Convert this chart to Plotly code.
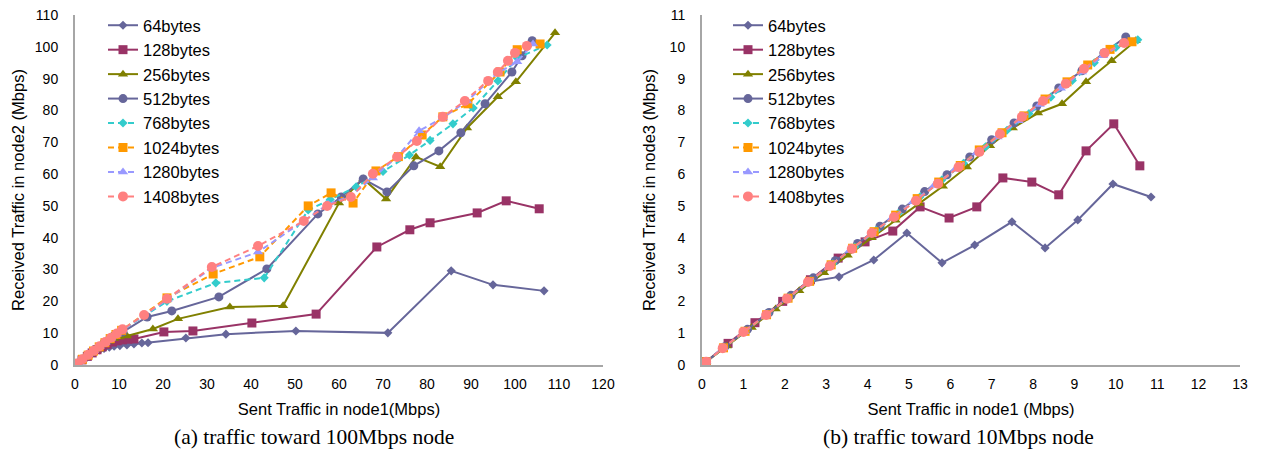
import plotly.graph_objects as go

# ---------- data: (a) traffic toward 100Mbps node ----------
a64_x = [0.4, 1.5, 2.6, 3.6, 4.6, 5.6, 6.6, 7.8, 8.9, 10.2, 11.8, 13.4, 15.2, 16.6, 25.2, 34.3, 50.2, 71.1, 85.5, 95.0, 106.6]
a64_y = [0.4, 1.4, 2.4, 3.3, 4.1, 4.7, 5.2, 5.6, 5.9, 6.1, 6.3, 6.6, 6.9, 7.0, 8.5, 9.7, 10.7, 10.1, 29.6, 25.2, 23.3]
a128_x = [0.5, 1.6, 2.8, 3.9, 5.0, 6.2, 7.3, 8.5, 9.6, 10.8, 12.0, 13.4, 20.2, 26.8, 40.2, 54.8, 68.6, 76.1, 80.7, 91.4, 98.0, 105.5]
a128_y = [0.5, 1.6, 2.7, 3.8, 4.8, 5.7, 6.5, 7.2, 7.6, 7.9, 8.1, 8.2, 10.4, 10.7, 13.2, 16.0, 37.1, 42.5, 44.7, 47.8, 51.6, 49.1]
a256_x = [0.5, 1.7, 2.9, 4.1, 5.3, 6.5, 7.7, 8.9, 10.1, 11.8, 17.7, 23.4, 35.2, 47.3, 60.0, 65.5, 70.7, 77.5, 83.0, 89.1, 96.1, 100.2, 109.1]
a256_y = [0.5, 1.7, 2.9, 4.1, 5.3, 6.4, 7.5, 8.3, 8.8, 9.1, 11.3, 14.5, 18.2, 18.6, 50.9, 58.5, 52.2, 65.4, 62.3, 74.5, 84.3, 89.0, 104.4]
a512_x = [0.5, 1.7, 2.9, 4.1, 5.4, 6.6, 7.8, 9.0, 10.9, 16.4, 22.0, 32.7, 43.6, 55.2, 60.5, 65.5, 70.9, 77.0, 82.7, 87.7, 93.2, 99.3, 101.6, 103.9]
a512_y = [0.5, 1.8, 3.0, 4.3, 5.6, 6.9, 8.1, 9.3, 10.4, 15.1, 17.0, 21.4, 30.2, 47.5, 52.8, 58.5, 54.4, 62.6, 67.3, 73.0, 82.1, 92.1, 97.2, 101.9]
a768_x = [0.5, 1.7, 3.0, 4.2, 5.5, 6.7, 8.0, 9.2, 10.5, 20.9, 32.0, 43.0, 53.0, 58.0, 63.9, 70.0, 76.0, 80.7, 85.9, 90.5, 96.1, 100.5, 107.3]
a768_y = [0.5, 1.8, 3.1, 4.4, 5.7, 7.0, 8.3, 9.5, 10.8, 20.0, 25.8, 27.4, 48.7, 52.0, 56.0, 60.8, 66.0, 70.6, 75.8, 80.8, 89.3, 96.5, 100.6]
a1024_x = [0.5, 1.7, 3.0, 4.2, 5.5, 6.8, 8.0, 9.3, 10.6, 20.9, 31.4, 42.0, 53.0, 58.2, 63.2, 68.4, 73.5, 78.9, 83.6, 89.3, 96.6, 100.5, 105.7]
a1024_y = [0.5, 1.8, 3.1, 4.4, 5.7, 7.0, 8.3, 9.6, 10.9, 21.1, 28.6, 34.0, 50.0, 54.1, 50.9, 61.0, 65.5, 72.3, 78.0, 82.1, 92.1, 99.1, 100.9]
a1280_x = [0.5, 1.7, 3.0, 4.3, 5.6, 6.9, 8.2, 9.5, 10.8, 21.0, 31.1, 41.6, 52.0, 57.5, 62.5, 67.7, 73.4, 78.2, 83.6, 89.1, 96.1, 100.5, 104.1]
a1280_y = [0.5, 1.8, 3.2, 4.5, 5.8, 7.1, 8.4, 9.7, 11.0, 20.6, 30.5, 35.5, 45.3, 50.5, 53.0, 58.8, 65.7, 73.6, 77.7, 83.0, 91.8, 95.3, 100.9]
a1408_x = [0.5, 1.7, 3.0, 4.3, 5.6, 6.9, 8.2, 9.5, 10.8, 15.7, 20.9, 31.1, 41.6, 52.0, 57.3, 62.7, 67.7, 73.2, 77.7, 83.6, 88.6, 93.9, 96.1, 98.4, 100.0, 102.7]
a1408_y = [0.5, 1.8, 3.2, 4.5, 5.9, 7.2, 8.6, 9.9, 11.2, 15.7, 20.8, 30.8, 37.4, 45.3, 50.0, 52.8, 60.1, 65.4, 70.4, 78.0, 83.0, 89.3, 92.1, 95.6, 98.1, 100.3]

# ---------- data: (b) traffic toward 10Mbps node ----------
b64_x = [0.1, 0.55, 1.1, 1.6, 2.1, 2.56, 3.31, 4.15, 4.95, 5.80, 6.59, 7.49, 8.29, 9.08, 9.93, 10.85]
b64_y = [0.1, 0.56, 1.1, 1.62, 2.12, 2.61, 2.77, 3.30, 4.15, 3.21, 3.77, 4.50, 3.68, 4.56, 5.69, 5.28]
b128_x = [0.1, 0.63, 1.28, 1.95, 2.62, 3.29, 3.94, 4.61, 5.27, 5.97, 6.64, 7.27, 7.97, 8.62, 9.28, 9.95, 10.58]
b128_y = [0.1, 0.68, 1.33, 2.0, 2.68, 3.36, 3.87, 4.21, 4.97, 4.62, 4.97, 5.88, 5.75, 5.35, 6.73, 7.58, 6.26]
b256_x = [0.1, 0.6, 1.2, 1.78, 2.35, 2.95, 3.52, 4.1, 4.68, 5.25, 5.82, 6.4, 6.96, 7.51, 8.12, 8.70, 9.28, 9.90, 10.48]
b256_y = [0.1, 0.6, 1.18, 1.76, 2.33, 2.9, 3.45, 4.0, 4.55, 5.08, 5.62, 6.22, 6.89, 7.45, 7.92, 8.21, 8.90, 9.56, 10.19]
b512_x = [0.1, 0.55, 1.1, 1.62, 2.15, 2.69, 3.22, 3.76, 4.3, 4.84, 5.38, 5.92, 6.47, 7.0, 7.54, 8.09, 8.62, 9.18, 9.71, 10.24]
b512_y = [0.1, 0.57, 1.12, 1.65, 2.19, 2.74, 3.28, 3.82, 4.36, 4.9, 5.45, 5.98, 6.54, 7.08, 7.61, 8.14, 8.71, 9.25, 9.81, 10.31]
b768_x = [0.1, 0.52, 1.05, 1.58, 2.1, 2.63, 3.16, 3.69, 4.21, 4.74, 5.27, 5.8, 6.32, 6.85, 7.37, 7.9, 8.43, 8.95, 9.48, 10.0, 10.53]
b768_y = [0.1, 0.53, 1.06, 1.6, 2.12, 2.65, 3.18, 3.71, 4.23, 4.76, 5.29, 5.82, 6.34, 6.86, 7.38, 7.9, 8.42, 8.94, 9.5, 9.98, 10.22]
b1024_x = [0.1, 0.52, 1.04, 1.56, 2.08, 2.6, 3.12, 3.64, 4.16, 4.68, 5.2, 5.72, 6.24, 6.7, 7.25, 7.78, 8.29, 8.82, 9.32, 9.86, 10.39]
b1024_y = [0.1, 0.54, 1.06, 1.58, 2.1, 2.63, 3.15, 3.67, 4.19, 4.71, 5.23, 5.75, 6.27, 6.76, 7.3, 7.83, 8.36, 8.9, 9.43, 9.92, 10.16]
b1280_x = [0.1, 0.51, 1.02, 1.53, 2.04, 2.55, 3.06, 3.57, 4.08, 4.59, 5.1, 5.61, 6.12, 6.63, 7.14, 7.65, 8.16, 8.67, 9.18, 9.69, 10.2]
b1280_y = [0.1, 0.54, 1.05, 1.56, 2.07, 2.58, 3.09, 3.6, 4.11, 4.62, 5.13, 5.64, 6.15, 6.66, 7.17, 7.68, 8.19, 8.7, 9.21, 9.72, 10.13]
b1408_x = [0.1, 0.5, 1.0, 1.55, 2.05, 2.56, 3.09, 3.62, 4.1, 4.64, 5.17, 5.7, 6.2, 6.7, 7.2, 7.73, 8.24, 8.79, 9.23, 9.73, 10.2]
b1408_y = [0.1, 0.53, 1.04, 1.57, 2.08, 2.61, 3.11, 3.65, 4.15, 4.65, 5.16, 5.7, 6.22, 6.70, 7.26, 7.80, 8.30, 8.84, 9.31, 9.81, 10.12]

names = ["64bytes", "128bytes", "256bytes", "512bytes", "768bytes", "1024bytes", "1280bytes", "1408bytes"]
colors = ["#66669A", "#993366", "#808000", "#66669A", "#33CCCC", "#FF9900", "#9999FF", "#FF8080"]
symbols = ["diamond", "square", "triangle-up", "circle", "diamond", "square", "triangle-up", "circle"]
msizes = [7, 9, 9, 9, 7, 9, 9, 10]
dashes = ["solid", "solid", "solid", "solid", "6px,4px", "6px,4px", "6px,4px", "6px,4px"]

a_series = [(a64_x, a64_y), (a128_x, a128_y), (a256_x, a256_y), (a512_x, a512_y),
            (a768_x, a768_y), (a1024_x, a1024_y), (a1280_x, a1280_y), (a1408_x, a1408_y)]
b_series = [(b64_x, b64_y), (b128_x, b128_y), (b256_x, b256_y), (b512_x, b512_y),
            (b768_x, b768_y), (b1024_x, b1024_y), (b1280_x, b1280_y), (b1408_x, b1408_y)]

fig = go.Figure()
for i, (xs, ys) in enumerate(a_series):
    fig.add_trace(go.Scatter(
        x=xs, y=ys, name=names[i], mode="lines+markers", xaxis="x", yaxis="y",
        line=dict(color=colors[i], width=2, dash=dashes[i]),
        marker=dict(symbol=symbols[i], size=msizes[i], color=colors[i]),
        legend="legend"))
for i, (xs, ys) in enumerate(b_series):
    fig.add_trace(go.Scatter(
        x=xs, y=ys, name=names[i], mode="lines+markers", xaxis="x2", yaxis="y2",
        line=dict(color=colors[i], width=2, dash=dashes[i]),
        marker=dict(symbol=symbols[i], size=msizes[i], color=colors[i]),
        legend="legend2"))

W, H = 1264, 457
OFF = 8  # page body margin in the browser
def px_x(p):
    return (p - OFF) / W
def px_y(p):
    return 1 - (p - OFF) / H

y_dom = [px_y(365), px_y(15)]
tick_font = dict(family="Liberation Sans, Arial", size=14, color="#000000")
title_font = dict(family="Liberation Sans, Arial", size=16.5, color="#000000")
axis_common = dict(showgrid=False, zeroline=False, showline=True, linecolor="#A6A6A6",
                   linewidth=2, ticks="", tickfont=tick_font, automargin=False,
                   ticklabeloverflow="allow")
legend_common = dict(font=dict(family="Liberation Sans, Arial", size=16.5, color="#000000"),
                     bgcolor="rgba(0,0,0,0)", xanchor="left", yanchor="top",
                     tracegroupgap=0, itemwidth=30)
cap_font = dict(family="Liberation Serif, Times New Roman", size=21.5, color="#000000")

fig.update_layout(
    width=W, height=H,
    margin=dict(l=0, r=0, t=0, b=0, autoexpand=False),
    paper_bgcolor="white", plot_bgcolor="white",
    xaxis=dict(domain=[px_x(75), px_x(603)], range=[0, 120], dtick=10, anchor="y", ticklabelstandoff=5,
               title=dict(text="Sent Traffic in node1(Mbps)", font=title_font, standoff=13), **axis_common),
    yaxis=dict(domain=y_dom, range=[0, 110.01], tick0=0, dtick=10, anchor="x", ticklabelstandoff=12,
               title=dict(text="Received Traffic in node2 (Mbps)", font=title_font, standoff=6), **axis_common),
    xaxis2=dict(domain=[px_x(702), px_x(1240)], range=[0, 13], dtick=1, anchor="y2", ticklabelstandoff=5,
                title=dict(text="Sent Traffic in node1 (Mbps)", font=title_font, standoff=13), **axis_common),
    yaxis2=dict(domain=y_dom, range=[0, 11.001], tick0=0, dtick=1, anchor="x2", ticklabelstandoff=12,
                title=dict(text="Received Traffic in node3 (Mbps)", font=title_font, standoff=10), **axis_common),
    legend=dict(x=px_x(103), y=px_y(8), **legend_common),
    legend2=dict(x=px_x(728), y=px_y(8), **legend_common),
    annotations=[
        dict(text="(a) traffic toward 100Mbps node", x=px_x(314), y=px_y(437), xref="paper", yref="paper",
             xanchor="center", yanchor="middle", showarrow=False, font=cap_font),
        dict(text="(b) traffic toward 10Mbps node", x=px_x(958), y=px_y(437), xref="paper", yref="paper",
             xanchor="center", yanchor="middle", showarrow=False, font=cap_font),
    ],
)

fig.write_html("out.html")
